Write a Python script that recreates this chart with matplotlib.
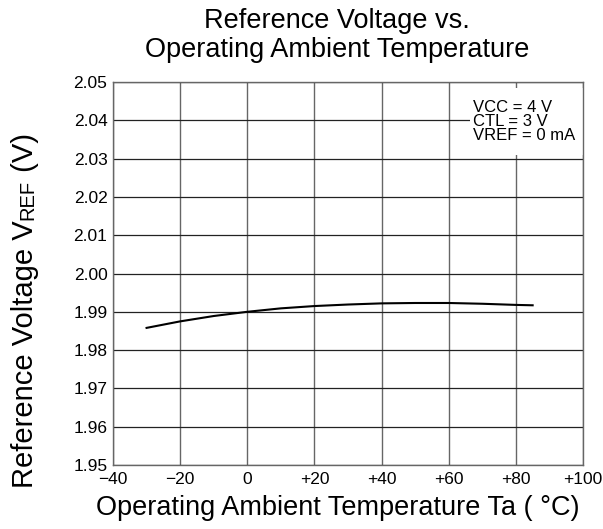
import matplotlib.pyplot as plt
from matplotlib.patches import Rectangle
from matplotlib.transforms import offset_copy

plt.rcParams['font.family'] = ['Liberation Sans', 'DejaVu Sans']

# Data
temp = [-30, -20, -10, 0, 10, 20, 30, 40, 50, 60, 70, 80, 85]
vref = [1.9858, 1.9875, 1.9889, 1.9900, 1.9909, 1.9915, 1.9919, 1.9922, 1.9923, 1.9923, 1.9921, 1.9918, 1.9917]

xticks = [-40, -20, 0, 20, 40, 60, 80, 100]
xlabels = ['\u221240', '\u221220', '0', '+20', '+40', '+60', '+80', '+100']
yticks = [1.95, 1.96, 1.97, 1.98, 1.99, 2.00, 2.01, 2.02, 2.03, 2.04, 2.05]
ylabels = ['%.2f' % v for v in yticks]

W, H = 603, 529
fig = plt.figure(figsize=(W / 100, H / 100), dpi=100)
ax = fig.add_axes([113 / W, 64 / H, 470 / W, 383 / H])

ax.plot(temp, vref, color='black', lw=1.5, zorder=3)

ax.set_xlim(-40, 100)
ax.set_ylim(1.95, 2.05)
ax.set_xticks(xticks)
ax.set_xticklabels(xlabels, fontsize=12.5)
ax.set_yticks(yticks)
ax.set_yticklabels(ylabels, fontsize=12.5)
ax.tick_params(axis='x', length=0, pad=5)
ax.tick_params(axis='y', length=0, pad=4)

# grid: horizontal lines darker than vertical ones
ax.grid(axis='y', color='#222222', lw=0.9)
ax.grid(axis='x', color='#666666', lw=1.0)
for s in ax.spines.values():
    s.set_color('#666666')
    s.set_linewidth(1.0)

# titles
fig.text(337 / W, 1 - 21 / H, 'Reference Voltage vs.', fontsize=19.5, ha='center', va='center')
fig.text(337 / W, 1 - 50 / H, 'Operating Ambient Temperature', fontsize=19.5, ha='center', va='center')

fig.text(338 / W, 1 - 508 / H, 'Operating Ambient Temperature Ta ( \u00b0C)', fontsize=19.5,
         ha='center', va='center')

# y label with small-caps style REF, built bottom to top
fig.canvas.draw()
r = fig.canvas.get_renderer()
parts = [('Reference Voltage V', 21), ('REF', 14.5), (' (V)', 21)]
x0 = 33 / W
y0 = 1 - 488 / H
offset = 0
for txt, fs in parts:
    t = fig.text(x0, y0, txt, fontsize=fs, rotation=90, ha='left', va='baseline',
                 rotation_mode='anchor',
                 transform=offset_copy(fig.transFigure, fig=fig, x=0, y=offset, units='dots'))
    bb = t.get_window_extent(r)
    offset += bb.height

# condition box
ax.add_patch(Rectangle((0.76, 0.809), 0.24, 0.175, transform=ax.transAxes,
                       facecolor='white', edgecolor='none', zorder=2))
ax.text(0.766, 0.954, 'VCC = 4 V\nCTL = 3 V\nVREF = 0 mA', transform=ax.transAxes,
        fontsize=12, va='top', ha='left', linespacing=0.95, zorder=4)

fig.savefig('out.png', dpi=100)
